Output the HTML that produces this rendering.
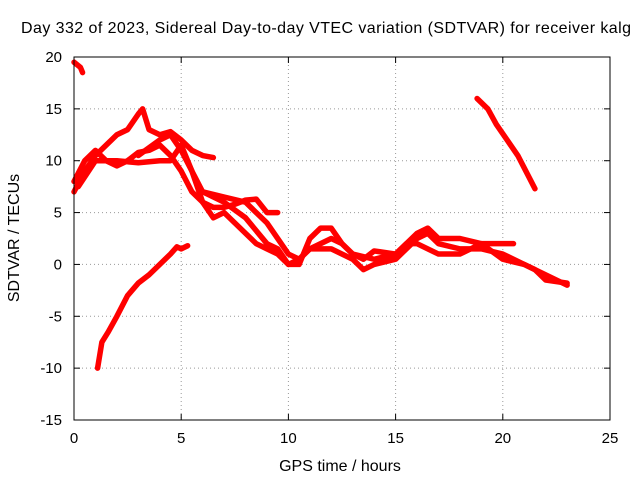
<!DOCTYPE html>
<html><head><meta charset="utf-8"><style>
body{margin:0;background:#fff}
svg{font-family:"Liberation Sans",sans-serif;font-size:15px}
.big{font-size:16px}
</style></head><body>
<svg id="chart" width="640" height="480">
<text class="big" x="326" y="33" text-anchor="middle" textLength="610">Day 332 of 2023, Sidereal Day-to-day VTEC variation (SDTVAR) for receiver kalg</text>
<g id="grid"></g>
<g id="axes"></g>
<g id="series"></g>
<rect x="74" y="57" width="536" height="363" fill="none" stroke="#000"/>
<text class="big" x="340" y="471" text-anchor="middle">GPS time / hours</text>
<text class="big" transform="translate(19,238) rotate(-90)" text-anchor="middle">SDTVAR / TECUs</text>
</svg>
<script>
const xTicks=[0,5,10,15,20,25];
const yTicks=[20,15,10,5,0,-5,-10,-15];
const s1=[[0,19.5],[0.3,19],[0.4,18.5]];
const s2=[[1.1,-10],[1.3,-7.5],[1.6,-6.5],[2.0,-5],[2.5,-3],[3.0,-1.8],[3.5,-1],[4.0,0],[4.5,1],[4.8,1.7],[5.0,1.5],[5.3,1.8]];
const s3=[[18.8,16],[19.3,15],[19.7,13.5],[20.2,12],[20.7,10.5],[21.2,8.5],[21.5,7.3]];
const sA=[[0,7],[0.5,9],[1,10.5],[1.5,11.5],[2,12.5],[2.5,13],[3,14.5],[3.2,15],[3.5,13],[4,12.5],[4.5,12.8],[5,12],[5.5,11],[6,10.5],[6.5,10.3]];
const sB=[[0,8],[0.5,10],[1,11],[1.5,10],[2,9.5],[2.5,10],[3,10.8],[3.5,11],[4,11.5],[4.5,10.5],[5,9],[5.5,7],[6,6],[6.5,5.5],[7,5.5],[7.5,5.8],[8,6.2],[8.5,6.3],[9,5],[9.5,5]];
const sC=[[0.2,7.5],[1,10],[2,10],[3,9.8],[4,10],[4.5,10],[5,11.5],[5.5,9],[6,6],[6.5,4.5],[7,5],[7.5,4],[8,3],[8.5,2],[9,1.5],[9.5,1],[10,0],[10.5,0.5],[11,1.5],[11.5,1.5],[12,1.5],[13,0.5],[13.5,-0.5],[14,0],[15,0.5],[15.5,1.5],[16,2.5],[16.5,3],[17,2],[18,1.5],[19,1.5],[20,1],[21,0],[22,-1],[23,-2]];
const sD=[[3,10.5],[4,12],[4.5,12.5],[5,11],[5.5,9],[6,7],[7,6],[8,4.5],[9,2],[9.5,1.5],[10,0],[10.5,0],[11,2.5],[11.5,3.5],[12,3.5],[12.5,2],[13,1],[13.5,0.5],[14,1.3],[15,1],[16,3],[16.5,3.5],[17,2.5],[17.5,2.5],[18,2.5],[19,2],[20,2],[20.5,2]];
const sE=[[6,7],[7,6.5],[8,6],[9,4],[10,1],[10.5,0.5],[11,1.5],[12,2.5],[12.5,2],[13,1],[14,0.5],[15,1],[15.5,2],[16,2],[17,1],[18,1],[19,2],[20,0.5],[21,0],[21.5,-0.5],[22,-1.5],[23,-1.8]];
const allSeries=[s1,s2,s3,sA,sB,sC,sD,sE];
const X0=74,X1=610,Y0=420,Y1=57;
function xs(v){return X0+(v-0)/(25-0)*(X1-X0);}
function ys(v){return Y0-(v+15)/(35)*(Y0-Y1);}
const NS="http://www.w3.org/2000/svg";
const grid=document.getElementById('grid'),axes=document.getElementById('axes'),ser=document.getElementById('series');
function mk(tag,attrs,parent){const e=document.createElementNS(NS,tag);for(const k in attrs)e.setAttribute(k,attrs[k]);parent.appendChild(e);return e;}
xTicks.forEach(t=>{const x=xs(t);
 if(t>0&&t<25){const g=mk('line',{x1:x,x2:x,y1:Y1,y2:Y0,stroke:'#999','stroke-dasharray':'1,3'},grid);
 
 }
 mk('line',{x1:x,x2:x,y1:Y0,y2:Y0-6,stroke:'#000'},axes);mk('line',{x1:x,x2:x,y1:Y1,y2:Y1+6,stroke:'#000'},axes);
 const l=mk('text',{x:x,y:443,'text-anchor':'middle'},axes);l.textContent=t;
 
 });
yTicks.forEach(t=>{const y=ys(t);
 if(t>-15&&t<20){const g=mk('line',{x1:X0,x2:X1,y1:y,y2:y,stroke:'#999','stroke-dasharray':'1,3'},grid);
 
 }
 mk('line',{x1:X0,x2:X0+6,y1:y,y2:y,stroke:'#000'},axes);mk('line',{x1:X1,x2:X1-6,y1:y,y2:y,stroke:'#000'},axes);
 const l=mk('text',{x:62,y:y+5,'text-anchor':'end'},axes);l.textContent=t;
 
 });
allSeries.forEach((s,i)=>{const p=mk('polyline',{points:s.map(d=>xs(d[0])+','+ys(d[1])).join(' '),fill:'none',stroke:'#f00','stroke-width':5.5,'stroke-linejoin':'round','stroke-linecap':'round'},ser);
 
 });
</script>
</body></html>
